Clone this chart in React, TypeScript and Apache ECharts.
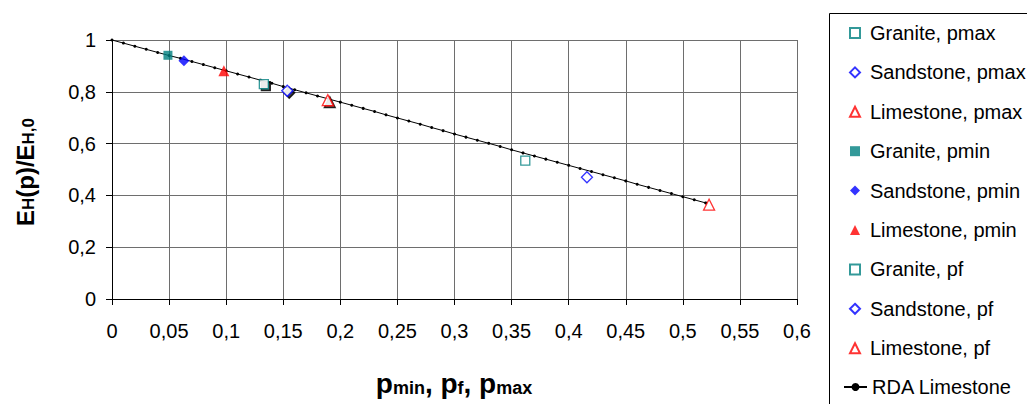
import React, { useEffect, useRef } from "react";
import * as echarts from "echarts";

const graniteMax = [[0.362, 0.534]];
const sandstoneMax = [[0.416, 0.47]];
const limestoneMax = [[0.523, 0.364]];
const graniteMin = [[0.049, 0.941]];
const sandstoneMin = [[0.063, 0.92]];
const limestoneMin = [[0.098, 0.881]];
const granitePf = [[0.133, 0.83]];
const sandstonePf = [[0.1535, 0.804]];
const limestonePf = [[0.189, 0.768]];

const rdaX = [
  0, 0.01, 0.02, 0.03, 0.04, 0.05, 0.06, 0.07, 0.08, 0.09, 0.1, 0.11, 0.12, 0.13, 0.14, 0.15, 0.16, 0.17,
  0.18, 0.19, 0.2, 0.21, 0.22, 0.23, 0.24, 0.25, 0.26, 0.27, 0.28, 0.29, 0.3, 0.31, 0.32, 0.33, 0.34, 0.35,
  0.36, 0.37, 0.38, 0.39, 0.4, 0.41, 0.42, 0.43, 0.44, 0.45, 0.46, 0.47, 0.48, 0.49, 0.5, 0.51, 0.52,
];
const rdaY = [
  1.0, 0.988, 0.976, 0.964, 0.952, 0.94, 0.929, 0.917, 0.905, 0.893, 0.881, 0.869, 0.857, 0.845, 0.833, 0.82,
  0.808, 0.796, 0.784, 0.772, 0.76, 0.748, 0.736, 0.724, 0.711, 0.699, 0.687, 0.675, 0.662, 0.65, 0.637, 0.625,
  0.613, 0.601, 0.589, 0.576, 0.564, 0.552, 0.54, 0.528, 0.516, 0.504, 0.492, 0.48, 0.468, 0.456, 0.443, 0.431,
  0.419, 0.407, 0.395, 0.383, 0.371,
];

const xTicks = { min: 0, max: 0.6, interval: 0.05 };
const yTicks = { min: 0, max: 1, interval: 0.2 };

const legendNames = [
  "Granite, pmax",
  "Sandstone, pmax",
  "Limestone, pmax",
  "Granite, pmin",
  "Sandstone, pmin",
  "Limestone, pmin",
  "Granite, pf",
  "Sandstone, pf",
  "Limestone, pf",
  "RDA Limestone",
];

const TEAL = "#008080";
const BLUE = "#0000ff";
const RED = "#ff0000";
const FONT = "'Liberation Sans', Arial, sans-serif";

export default function App() {
  const ref = useRef<HTMLDivElement>(null);
  useEffect(() => {
    if (!ref.current) return;
    const chart = echarts.init(ref.current, undefined, { renderer: "svg" });
    const fmt = (v: number) => String(v).replace(".", ",");
    const open = (color: string, shadow = false) => ({
      color: "#ffffff",
      borderColor: color,
      borderWidth: 1.3,
      ...(shadow ? { shadowColor: "#000", shadowOffsetX: 2, shadowOffsetY: 2, shadowBlur: 0 } : {}),
    });
    const scatter = (name: string, data: number[][], symbol: string, size: number, itemStyle: any) => ({
      name,
      type: "scatter",
      data,
      symbol,
      symbolSize: size,
      itemStyle,
      z: 5,
    });
    const legendBase = {
      type: "plain",
      orient: "vertical",
      padding: 0,
      itemHeight: 10,
      itemGap: 19.4,
      textStyle: { fontSize: 20, color: "#000", fontFamily: FONT },
      itemStyle: { shadowColor: "rgba(0,0,0,0)", shadowOffsetX: 0, shadowOffsetY: 0, shadowBlur: 0 },
    };
    chart.setOption({
      animation: false,
      textStyle: { fontFamily: FONT },
      grid: { left: 112, right: 230, top: 40, bottom: 105, containLabel: false },
      xAxis: {
        type: "value",
        ...xTicks,
        axisLine: { show: true, onZero: false, lineStyle: { color: "#000", width: 1 } },
        axisTick: { show: true, length: 6, inside: false, lineStyle: { color: "#000" } },
        axisLabel: { formatter: fmt, fontSize: 20, color: "#000", margin: 22, fontFamily: FONT },
        splitLine: { show: true, lineStyle: { color: "#6e6e6e", width: 1 } },
      },
      yAxis: {
        type: "value",
        ...yTicks,
        axisLine: { show: true, onZero: false, lineStyle: { color: "#000", width: 1 } },
        axisTick: { show: true, length: 6, inside: false, lineStyle: { color: "#000" } },
        axisLabel: { formatter: fmt, fontSize: 20, color: "#000", margin: 16, fontFamily: FONT },
        splitLine: { show: true, lineStyle: { color: "#6e6e6e", width: 1 } },
      },
      legend: [
        {
          ...legendBase,
          left: 849,
          top: 23,
          itemWidth: 10,
          textStyle: { ...legendBase.textStyle, padding: [0, 0, 0, 5] },
          data: legendNames.slice(0, 9),
        },
        {
          ...legendBase,
          left: 843,
          top: 377,
          itemWidth: 23,
          data: legendNames.slice(9),
        },
      ],
      graphic: [
        {
          type: "rect",
          shape: { x: 829.5, y: 13.5, width: 400, height: 500 },
          style: { fill: "none", stroke: "#000", lineWidth: 1 },
          silent: true,
        },
        {
          type: "text",
          x: 454,
          y: 383,
          style: {
            text: "{b|p}{s|min}{b|, p}{s|f}{b|, p}{s|max}",
            align: "center",
            verticalAlign: "middle",
            fill: "#000",
            font: `bold 28px ${FONT}`,
            rich: {
              b: { fontSize: 28, fontWeight: "bold", fontFamily: FONT, verticalAlign: "bottom", lineHeight: 28 },
              s: { fontSize: 18, fontWeight: "bold", fontFamily: FONT, verticalAlign: "bottom", lineHeight: 13 },
            },
          },
        },
        {
          type: "text",
          x: 25,
          y: 172,
          rotation: Math.PI / 2,
          style: {
            text: "{b|E}{s|H}{b|(p)/E}{s|H,0}",
            align: "center",
            verticalAlign: "middle",
            fill: "#000",
            font: `bold 24px ${FONT}`,
            rich: {
              b: { fontSize: 24, fontWeight: "bold", fontFamily: FONT, verticalAlign: "bottom", lineHeight: 24 },
              s: { fontSize: 17, fontWeight: "bold", fontFamily: FONT, verticalAlign: "bottom", lineHeight: 19 },
            },
          },
        },
      ],
      series: [
        scatter(legendNames[0], graniteMax, "rect", 9, open(TEAL)),
        scatter(legendNames[1], sandstoneMax, "diamond", 11, open(BLUE)),
        scatter(legendNames[2], limestoneMax, "triangle", 11, open(RED)),
        scatter(legendNames[3], graniteMin, "rect", 9, { color: TEAL }),
        scatter(legendNames[4], sandstoneMin, "diamond", 11, { color: BLUE }),
        scatter(legendNames[5], limestoneMin, "triangle", 11, { color: RED }),
        scatter(legendNames[6], granitePf, "rect", 9, open(TEAL, true)),
        scatter(legendNames[7], sandstonePf, "diamond", 11, open(BLUE, true)),
        scatter(legendNames[8], limestonePf, "triangle", 11, open(RED, true)),
        {
          name: legendNames[9],
          type: "line",
          data: rdaX.map((x, i) => [x, rdaY[i]]),
          symbol: "circle",
          symbolSize: 3,
          showSymbol: true,
          itemStyle: { color: "#000" },
          lineStyle: { color: "#000", width: 1 },
          z: 3,
        },
      ],
    });
    return () => chart.dispose();
  }, []);
  return (
    <div
      ref={ref}
      style={{ position: "fixed", left: 0, top: 0, width: 1027, height: 404, background: "#fff" }}
    />
  );
}
